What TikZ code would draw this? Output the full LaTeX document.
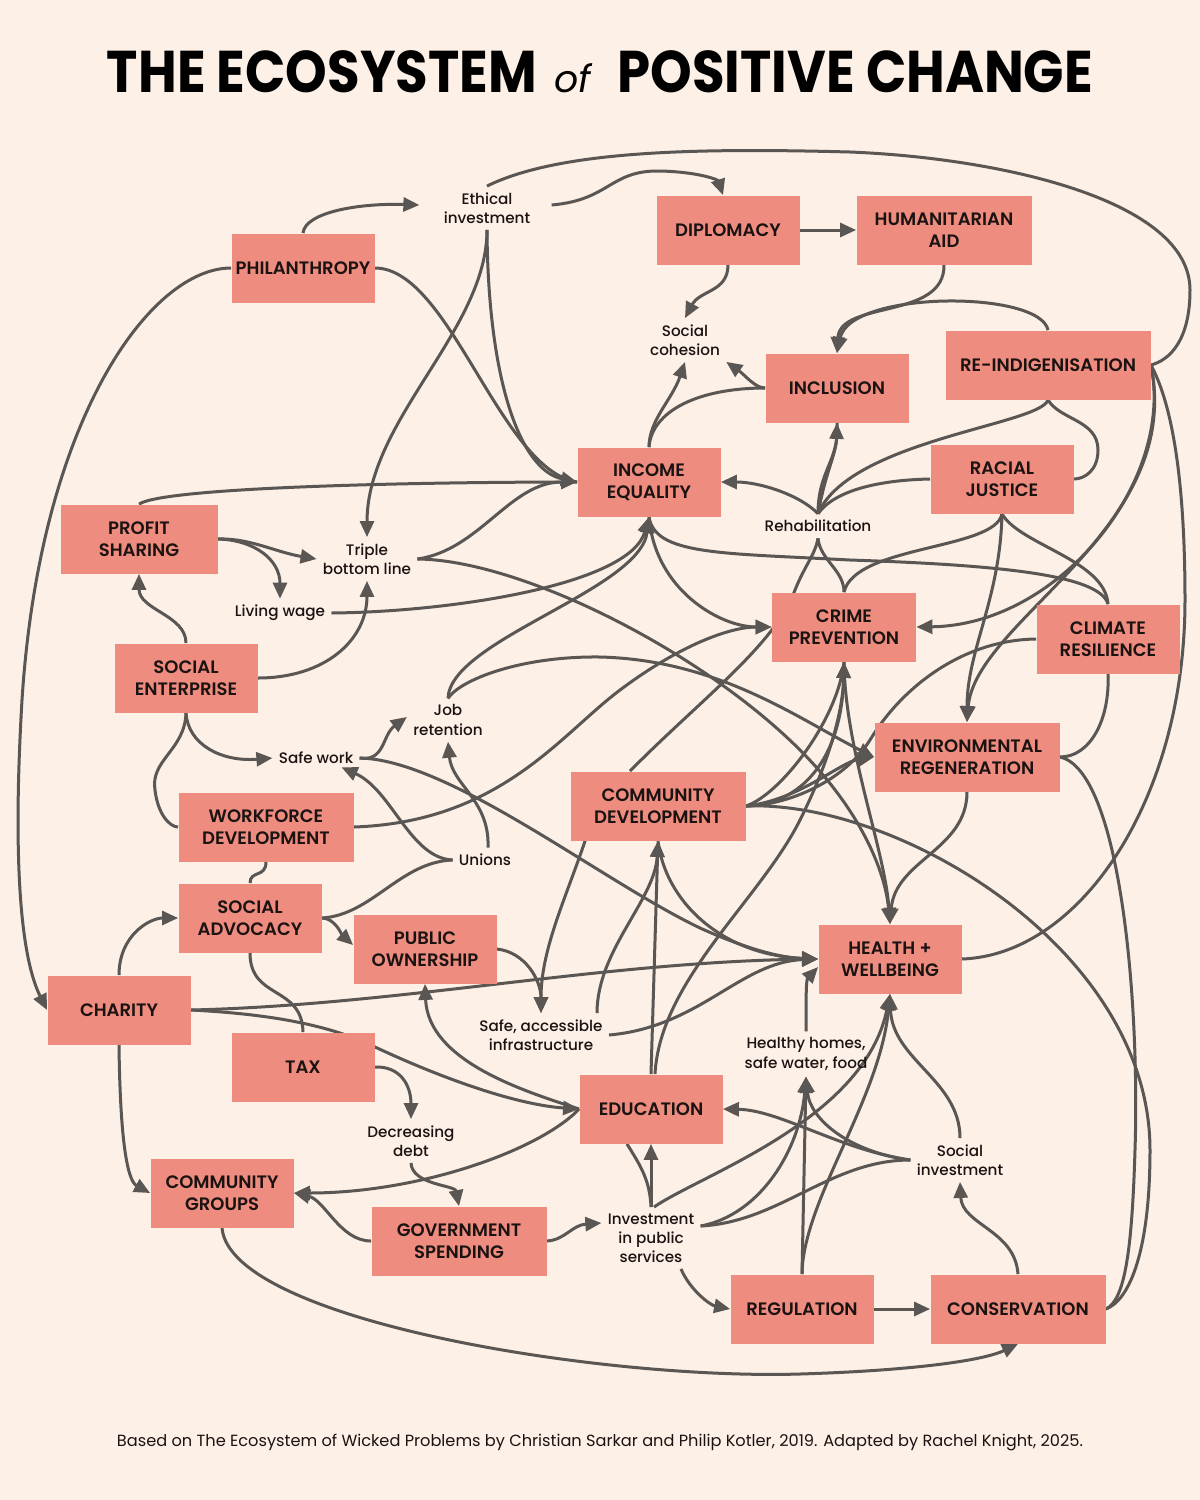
\documentclass[tikz,border=0pt]{standalone}
\usepackage{fontspec}
\setmainfont{Poppins}
\newfontfamily\boxfont{Poppins SemiBold}
\newfontfamily\labfont{Poppins Medium}
\newfontfamily\titlefont{Poppins Bold}[FakeStretch=0.9]
\usetikzlibrary{arrows.meta,calc}
\definecolor{bgc}{HTML}{FCF0E7}
\definecolor{boxc}{HTML}{EF8C80}
\definecolor{linec}{HTML}{5A5654}
\definecolor{txtc}{HTML}{1B1311}
\pgfdeclarelayer{bglayer}
\pgfdeclarelayer{edges}
\pgfsetlayers{bglayer,edges,main}
\tikzset{
 boxn/.style={fill=boxc, text=txtc, font=\boxfont\fontsize{9}{11}\selectfont, align=center, minimum height=34.5pt, inner sep=0pt},
 wa/.style={boxn, minimum width=71.5pt},
 wb/.style={boxn, minimum width=87.5pt},
 lab/.style={text=txtc, font=\labfont\fontsize{7.6}{9.6}\selectfont, align=center, inner sep=3pt},
 ln/.style={draw=linec, line width=1.5pt},
 ar/.style={ln, -{Triangle[length=8pt,width=7pt]}},
}
\begin{document}
\begin{tikzpicture}[x=0.5pt,y=-0.5pt]
\begin{pgfonlayer}{bglayer}
\fill[bgc] (0,0) rectangle (1200,1500);
\end{pgfonlayer}
\useasboundingbox (0,0) rectangle (1200,1500);

% title and footer
\node[inner sep=0pt, text=black] (title) at (600,72) {\resizebox{493pt}{!}{\titlefont\fontsize{28}{30}\selectfont THE ECOSYSTEM\hspace{0.3em}{\normalfont\itshape\fontsize{18}{20}\selectfont of}\hspace{0.45em}POSITIVE CHANGE}};
\node[inner sep=0pt, text=txtc] (foot) at (600,1442) {\resizebox{483pt}{!}{\fontsize{8}{10}\selectfont Based on The Ecosystem of Wicked Problems by Christian Sarkar and Philip Kotler, 2019. Adapted by Rachel Knight, 2025.}};

% boxes
\node[wa] (phil) at (303,268) {PHILANTHROPY};
\node[wa] (dipl) at (728,230) {DIPLOMACY};
\node[wb] (hum) at (944,230) {HUMANITARIAN\\AID};
\node[boxn, minimum width=102.5pt] (reind) at (1048,365) {RE-INDIGENISATION};
\node[wa] (incl) at (837,388) {INCLUSION};
\node[wa] (ie) at (649,482) {INCOME\\EQUALITY};
\node[wa] (rj) at (1002,479) {RACIAL\\JUSTICE};
\node[boxn, minimum width=78.5pt] (ps) at (139,539) {PROFIT\\SHARING};
\node[boxn, minimum width=72pt] (cp) at (844,627) {CRIME\\PREVENTION};
\node[wa] (cr) at (1108,639) {CLIMATE\\RESILIENCE};
\node[wa] (se) at (186,678) {SOCIAL\\ENTERPRISE};
\node[boxn, minimum width=92.5pt] (er) at (967,757) {ENVIRONMENTAL\\REGENERATION};
\node[wb] (cd) at (658,806) {COMMUNITY\\DEVELOPMENT};
\node[wb] (wd) at (266,827) {WORKFORCE\\DEVELOPMENT};
\node[wa] (sa) at (250,918) {SOCIAL\\ADVOCACY};
\node[wa] (po) at (425,949) {PUBLIC\\OWNERSHIP};
\node[wa] (hw) at (890,959) {HEALTH +\\WELLBEING};
\node[wa] (ch) at (119,1010) {CHARITY};
\node[wa] (tax) at (303,1067) {TAX};
\node[wa] (edu) at (651,1109) {EDUCATION};
\node[wa] (cg) at (222,1193) {COMMUNITY\\GROUPS};
\node[wb] (gs) at (459,1241) {GOVERNMENT\\SPENDING};
\node[wa] (reg) at (802,1309) {REGULATION};
\node[wb] (cons) at (1018,1309) {CONSERVATION};

% labels
\node[lab] (eth) at (487,208) {Ethical\\investment};
\node[lab] (coh) at (685,340) {Social\\cohesion};
\node[lab] (rehab) at (818,526) {Rehabilitation};
\node[lab] (tbl) at (367,559) {Triple\\bottom line};
\node[lab] (lw) at (280,613) {Living wage};
\node[lab] (jr) at (448,720) {Job\\retention};
\node[lab] (sw) at (316,758) {Safe work};
\node[lab] (un) at (485,860) {Unions};
\node[lab] (sai) at (541,1035) {Safe, accessible\\infrastructure};
\node[lab] (hh) at (806,1054) {Healthy homes,\\safe water, food};
\node[lab] (dd) at (411,1141) {Decreasing\\debt};
\node[lab] (si) at (960,1160) {Social\\investment};
\node[lab] (ips) at (651,1238) {Investment\\in public\\services};

\begin{pgfonlayer}{edges}
% philanthropy / ethical investment
\draw[ar] (phil.north) .. controls (305,212) and (360,203) .. ($(eth.west)+(-18,-3)$);
\draw[ar] (phil.west) .. controls (150,268) and (40,420) .. (22,700) .. controls (12,870) and (22,960) .. (ch.west);
\draw[ln] (phil.east) .. controls (450,268) and (500,470) .. (ie.west);
\draw[ar] (eth.south) .. controls (488,380) and (520,470) .. (ie.west);
\draw[ar] (eth.south) .. controls (487,330) and (367,420) .. (tbl.north);
\draw[ln] (eth.north) .. controls (560,150) and (700,148) .. (850,152) .. controls (1000,158) and (1190,200) .. (1190,290) .. controls (1190,340) and (1170,360) .. (reind.east);
\draw[ar] ($(eth.east)+(15,-3)$) .. controls (610,200) and (610,170) .. (660,171) .. controls (700,172) and (718,180) .. ($(dipl.north)+(-5,0)$);
% profit sharing etc
\draw[ln] (ps.north) .. controls (165,487) and (420,482) .. (ie.west);
\draw[ar] (tbl.east) .. controls (480,550) and (510,482) .. (ie.west);
\draw[ar] (tbl.east) .. controls (520,560) and (700,650) .. (800,750) .. controls (860,810) and (885,870) .. (hw.north);
\draw[ar] (ps.east) .. controls (250,538) and (275,552) .. (tbl.west);
\draw[ar] (ps.east) .. controls (255,540) and (280,560) .. (lw.north);
\draw[ar] (se.north) .. controls (186,615) and (139,610) .. (ps.south);
\draw[ar] (se.east) .. controls (325,678) and (367,640) .. (tbl.south);
\draw[ar] (lw.east) .. controls (450,612) and (630,585) .. (ie.south);
\draw[ar] (jr.north) .. controls (450,640) and (640,590) .. (ie.south);
\draw[ln] (cr.north) .. controls (1100,575) and (1000,565) .. (850,560) .. controls (720,553) and (655,555) .. (ie.south);
\draw[ar] (ie.south) .. controls (655,590) and (720,627) .. (cp.west);
\draw[ar] (wd.east) .. controls (500,822) and (560,735) .. (620,690) .. controls (680,645) and (730,627) .. (cp.west);
% top right
\draw[ar] (dipl.east) -- (hum.west);
\draw[ar] (dipl.south) .. controls (728,292) and (700,290) .. (coh.north);
\draw[ar] (hum.south) .. controls (945,320) and (840,300) .. (incl.north);
\draw[ar] (reind.north) .. controls (1040,290) and (850,290) .. (incl.north);
\draw[ar] (incl.west) .. controls (755,388) and (745,375) .. (coh.south east);
\draw[ar] (ie.north) .. controls (649,420) and (672,400) .. (coh.south);
\draw[ln] (ie.north) .. controls (652,410) and (700,388) .. (incl.west);
\draw[ar] (rehab.north) .. controls (800,495) and (760,482) .. (ie.east);
\draw[ar] (rehab.north) .. controls (826,470) and (836,455) .. (incl.south);
\draw[ln] (rehab.north) .. controls (818,470) and (840,460) .. (incl.south);
\draw[ln] (rj.west) .. controls (880,480) and (835,490) .. (rehab.north);
\draw[ln] (reind.south) .. controls (1040,425) and (850,440) .. (rehab.north);
\draw[ln] (reind.south) .. controls (1060,420) and (1098,420) .. (1098,450) .. controls (1098,470) and (1085,479) .. (rj.east);
\draw[ln] (rehab.south) .. controls (820,560) and (844,570) .. (cp.north);
\draw[ln] (rj.south) .. controls (995,550) and (855,545) .. (cp.north);
\draw[ln] ($(cd.north)+(-28,0)$) .. controls (700,700) and (775,645) .. (795,590) .. controls (805,565) and (815,555) .. (rehab.south);
\draw[ar] (rj.south) .. controls (1000,600) and (967,650) .. (er.north);
\draw[ln] (rj.south) .. controls (1020,545) and (1105,560) .. (cr.north);
\draw[ar] (reind.east) .. controls (1175,480) and (1060,625) .. (cp.east);
\draw[ar] (reind.east) .. controls (1185,530) and (975,620) .. (er.north);
\draw[ln] (hw.east) .. controls (1080,955) and (1185,800) .. (1185,600) .. controls (1185,470) and (1170,400) .. (reind.east);
\draw[ln] (cr.west) .. controls (960,640) and (900,690) .. (870,740) .. controls (845,780) and (790,805) .. (cd.east);
\draw[ln] (cr.south) .. controls (1110,720) and (1090,757) .. (er.east);
\draw[ln] (er.east) .. controls (1120,770) and (1140,1000) .. (1135,1150) .. controls (1132,1250) and (1125,1300) .. (cons.east);
\draw[ln] (cd.east) .. controls (900,800) and (1150,950) .. (1150,1150) .. controls (1150,1250) and (1130,1300) .. (cons.east);
\draw[ar] (er.south) .. controls (967,850) and (895,860) .. (hw.north);
\draw[ar] (cp.south) .. controls (845,750) and (885,850) .. (hw.north);
\draw[ar] (cd.east) .. controls (800,805) and (842,760) .. (cp.south);
\draw[ln] (cd.east) .. controls (780,795) and (838,720) .. (cp.south);
\draw[ar] (cd.east) .. controls (800,800) and (840,762) .. (er.west);
\draw[ar] (jr.north) .. controls (460,680) and (520,656) .. (600,657) .. controls (720,660) and (800,720) .. (er.west);
% middle
\draw[ar] (edu.north) -- (cd.south);
\draw[ar] ($(edu.north)+(4,0)$) .. controls (660,980) and (760,900) .. (800,820) .. controls (830,760) and (843,710) .. (cp.south);
\draw[ar] ($(sai.north)+(56,0)$) .. controls (597,950) and (655,900) .. (cd.south);
\draw[ar] ($(cd.south west)+(15,0)$) .. controls (565,900) and (541,950) .. (sai.north);
\draw[ar] (po.east) .. controls (525,952) and (541,980) .. (sai.north);
\draw[ar] (cd.south) .. controls (665,900) and (720,955) .. (hw.west);
\draw[ar] (sw.east) .. controls (450,760) and (600,880) .. (700,928) .. controls (760,955) and (790,958) .. (hw.west);
\draw[ar] (ch.east) .. controls (400,1005) and (600,962) .. (hw.west);
\draw[ar] (sai.east) .. controls (700,1027) and (740,962) .. (hw.west);
\draw[ar] (hh.north) .. controls (806,1000) and (806,980) .. ($(hw.west)+(0,8)$);
\draw[ar] (si.north) .. controls (960,1080) and (892,1060) .. (hw.south);
\draw[ar] ($(ips.north)+(3,0)$) .. controls (700,1175) and (865,1120) .. (hw.south);
\draw[ar] (reg.north) .. controls (803,1200) and (880,1100) .. (hw.south);
\draw[ar] (reg.north) -- (hh.south);
\draw[ar] ($(ips.east)+(0,-12)$) .. controls (760,1215) and (800,1150) .. (hh.south);
\draw[ar] (si.west) .. controls (850,1152) and (810,1120) .. (hh.south);
\draw[ar] (si.west) .. controls (840,1150) and (780,1110) .. (edu.east);
\draw[ln] (si.west) .. controls (830,1160) and (780,1222) .. ($(ips.east)+(0,-12)$);
\draw[ar] (ips.north) -- (edu.south);
\draw[ln] ($(edu.south)+(-24,0)$) .. controls (640,1165) and (650,1180) .. (ips.north);
\draw[ar] (gs.east) .. controls (565,1240) and (572,1225) .. ($(ips.west)+(0,-15)$);
\draw[ar] ($(ips.south)+(30,0)$) .. controls (690,1290) and (710,1305) .. (reg.west);
\draw[ar] (reg.east) -- (cons.west);
\draw[ar] (cons.north) .. controls (1015,1230) and (962,1225) .. (si.south);
\draw[ar] (cg.south) .. controls (230,1320) and (600,1380) .. (800,1374) .. controls (900,1371) and (980,1362) .. (cons.south);
% lower left
\draw[ar] (gs.west) .. controls (340,1241) and (325,1200) .. (cg.east);
\draw[ar] (edu.west) .. controls (540,1150) and (420,1193) .. (cg.east);
\draw[ar] (dd.south) .. controls (412,1185) and (455,1185) .. (gs.north);
\draw[ar] (tax.east) .. controls (400,1066) and (411,1085) .. (dd.north);
\draw[ar] (ch.east) .. controls (270,1014) and (330,1025) .. (375,1047) .. controls (450,1082) and (520,1105) .. (edu.west);
\draw[ar] (edu.west) .. controls (520,1090) and (428,1060) .. (po.south);
\draw[ar] (sa.east) .. controls (335,918) and (342,935) .. ($(po.west)+(0,-4)$);
\draw[ln] (sa.east) .. controls (372,915) and (400,862) .. (un.west);
\draw[ar] (un.west) .. controls (410,858) and (392,790) .. ($(sw.south east)+(-18,-3)$);
\draw[ar] ($(un.north)+(3,0)$) .. controls (490,800) and (452,785) .. (jr.south);
\draw[ar] (sw.east) .. controls (385,762) and (382,735) .. ($(jr.west)+(0,-3)$);
\draw[ar] (se.south) .. controls (188,745) and (222,762) .. (sw.west);
\draw[ln] (se.south) .. controls (185,750) and (150,760) .. (155,790) .. controls (158,815) and (170,827) .. (wd.west);
\draw[ln] (wd.south) .. controls (266,878) and (250,870) .. (sa.north);
\draw[ln] (sa.south) .. controls (250,1000) and (302,985) .. (tax.north);
\draw[ar] (ch.north) .. controls (119,935) and (150,918) .. (sa.west);
\draw[ar] (ch.south) .. controls (120,1130) and (126,1180) .. (cg.west);
\end{pgfonlayer}
\end{tikzpicture}
\end{document}
